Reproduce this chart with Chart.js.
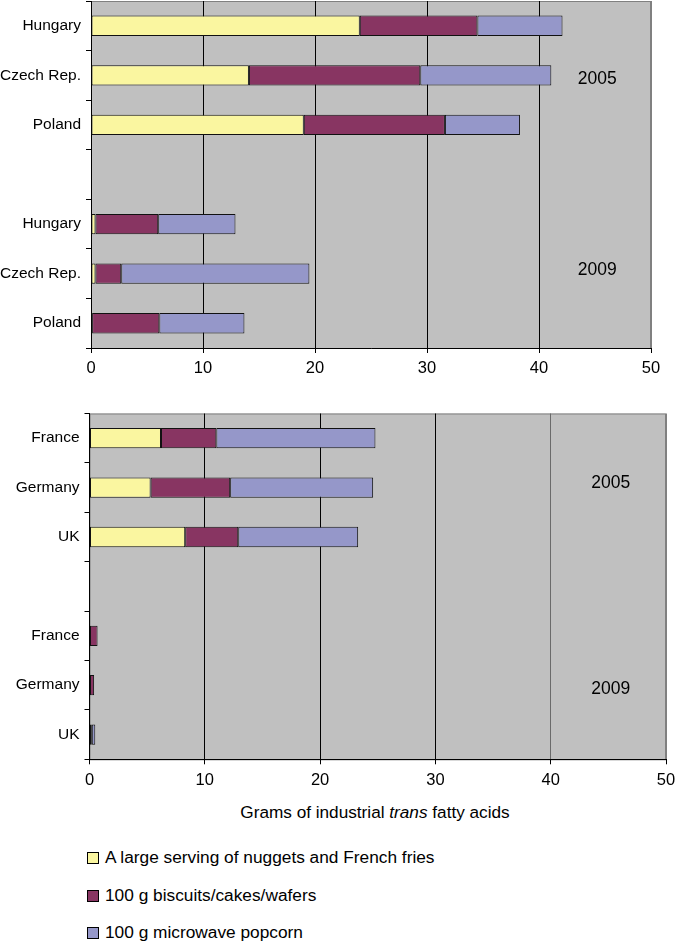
<!DOCTYPE html>
<html>
<head>
<meta charset="utf-8">
<script src="https://cdn.jsdelivr.net/npm/chart.js@4/dist/chart.umd.min.js"></script>
<style>
    body { margin: 0; background: #fff; width: 675px; height: 942px; position: relative; overflow: hidden;
           font-family: "Liberation Sans", Arial, sans-serif; color: #000; }
    .box { position: absolute; left: 0; width: 675px; }
    #axisTitle { position: absolute; top: 802px; left: 0; width: 750px; text-align: center; font-size: 17.2px; }
    .legend-row { position: absolute; left: 87px; font-size: 17.3px; line-height: 20px; white-space: nowrap; }
    .legend-row span.sw { display: inline-block; width: 10px; height: 10px; border: 1px solid #000;
                          margin-right: 6px; vertical-align: -1px; }
</style>
</head>
<body>
<div class="box" style="top:0;height:390px"><canvas id="chartTop" width="675" height="390"></canvas></div>
<div class="box" style="top:400px;height:400px"><canvas id="chartBottom" width="675" height="400"></canvas></div>
<div id="axisTitle">Grams of industrial <i>trans</i> fatty acids</div>
<div id="legend"></div>

<script>
// 数据
const catsTop = ['Hungary', 'Czech Rep.', 'Poland', '', 'Hungary', 'Czech Rep.', 'Poland'];
const catsBottom = ['France', 'Germany', 'UK', '', 'France', 'Germany', 'UK'];
const seriesNames = ['A large serving of nuggets and French fries', '100 g biscuits/cakes/wafers', '100 g microwave popcorn'];
const nuggetsTop = [24.0, 14.1, 19.0, null, 0.4, 0.4, 0.1];
const biscuitsTop = [10.5, 15.3, 12.6, null, 5.6, 2.3, 6.0];
const popcornTop = [7.6, 11.7, 6.7, null, 6.9, 16.8, 7.6];
const nuggetsBottom = [6.2, 5.3, 8.3, null, 0, 0, 0];
const biscuitsBottom = [4.8, 6.9, 4.6, null, 0.7, 0.4, 0.2];
const popcornBottom = [13.8, 12.4, 10.4, null, 0, 0, 0.3];
const xTicks = [0, 10, 20, 30, 40, 50];
const yearLabels = ['2005', '2009'];

const seriesColors = ['#FAF6A0', '#883562', '#9597C9'];
const FONT = '"Liberation Sans", Arial, sans-serif';

// 绘图区背景 + 年份标注
const plotBg = {
    id: 'plotBg',
    beforeDraw(chart) {
        const a = chart.chartArea, ctx = chart.ctx;
        ctx.save();
        ctx.fillStyle = '#C0C0C0';
        ctx.fillRect(a.left, a.top, a.right - a.left, a.bottom - a.top);
        ctx.strokeStyle = '#808080';
        ctx.lineWidth = 1;
        ctx.strokeRect(a.left + 0.5, a.top + 0.5, a.right - a.left - 1, a.bottom - a.top);
        ctx.restore();
    },
    afterDraw(chart, args, opts) {
        const ctx = chart.ctx, xs = chart.scales.x, ys = chart.scales.y;
        ctx.save();
        ctx.fillStyle = '#000';
        ctx.font = '17.5px ' + FONT;
        ctx.textAlign = 'center';
        ctx.textBaseline = 'middle';
        yearLabels.forEach((t, i) => {
            ctx.fillText(t, xs.getPixelForValue(45.2), ys.getPixelForValue(opts.rows[i]));
        });
        ctx.restore();
    }
};

function makeChart(id, labels, s1, s2, s3, lay) {
    const data = [s1, s2, s3];
    return new Chart(document.getElementById(id).getContext('2d'), {
        type: 'bar',
        data: {
            labels: labels,
            datasets: seriesNames.map((n, i) => ({
                label: n,
                data: data[i],
                backgroundColor: seriesColors[i],
                borderColor: '#111',
                borderWidth: 1,
                borderSkipped: false,
                categoryPercentage: 1,
                barPercentage: 0.41
            }))
        },
        options: {
            indexAxis: 'y',
            responsive: false,
            animation: false,
            layout: { padding: { top: lay.top, right: lay.right, left: 0, bottom: 0 } },
            plugins: {
                legend: { display: false },
                tooltip: { enabled: false },
                plotBg: { rows: lay.rows }
            },
            scales: {
                x: {
                    stacked: true,
                    min: 0,
                    max: 50,
                    afterBuildTicks: s => { s.ticks = xTicks.map(v => ({ value: v })); },
                    afterFit: s => { s.height = lay.xh; s.paddingLeft = 0; s.paddingRight = 0; },
                    grid: {
                        color: c => (c.tick && c.tick.value === 50) ? '#808080' :
                            (lay.grey40 && c.tick && c.tick.value === 40 ? '#6a6a6a' : '#000'),
                        tickColor: '#000',
                        tickLength: 5,
                        lineWidth: 1
                    },
                    border: { color: '#000', width: 1 },
                    ticks: { color: '#000', font: { family: FONT, size: 16.5 }, padding: 6, maxRotation: 0 }
                },
                y: {
                    stacked: true,
                    afterFit: s => { s.width = lay.yw; s.paddingTop = 0; s.paddingBottom = 0; },
                    grid: { drawOnChartArea: false, tickLength: 5, tickColor: '#000', color: '#000' },
                    border: { color: '#000', width: 1 },
                    ticks: { color: '#000', font: { family: FONT, size: 15.5 }, padding: 5 }
                }
            }
        },
        plugins: [plotBg]
    });
}

makeChart('chartTop', catsTop, nuggetsTop, biscuitsTop, popcornTop,
    { top: 1, right: 24, xh: 42, yw: 91, rows: [1.07, 4.92] });
makeChart('chartBottom', catsBottom, nuggetsBottom, biscuitsBottom, popcornBottom,
    { top: 13.5, right: 9, xh: 40.7, yw: 89.5, rows: [0.91, 5.08], grey40: true });

// 图例
const legendTops = [847, 885, 922];
document.getElementById('legend').innerHTML = seriesNames.map((n, i) =>
    '<div class="legend-row" style="top:' + legendTops[i] + 'px"><span class="sw" style="background:' +
    seriesColors[i] + '"></span>' + n + '</div>').join('');
</script>
</body>
</html>
